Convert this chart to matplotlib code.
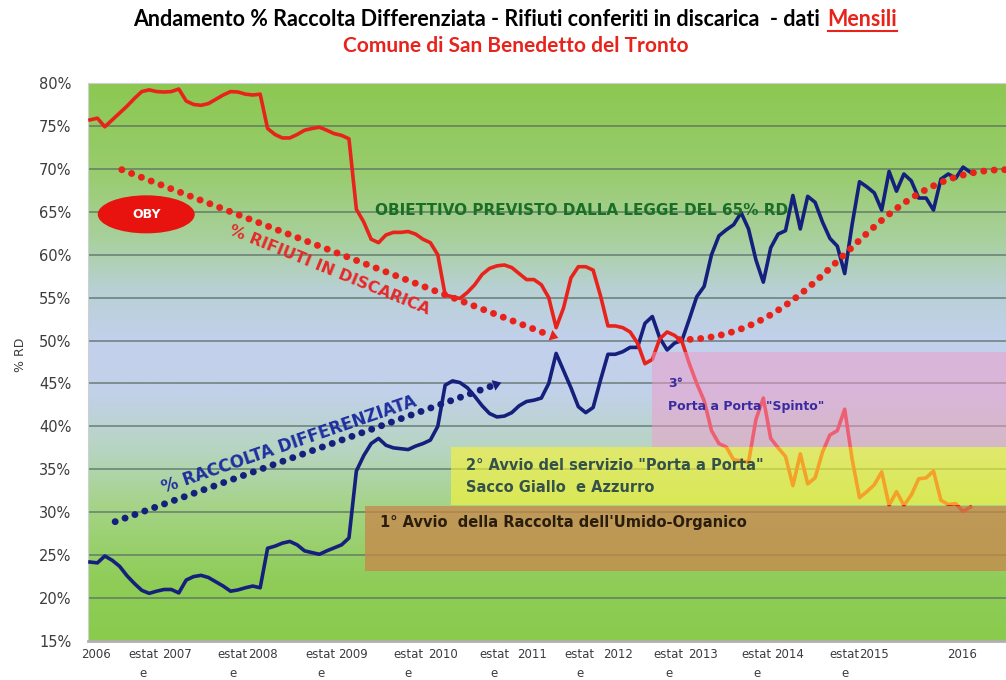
import numpy as np
import matplotlib.pyplot as plt
from matplotlib.colors import LinearSegmentedColormap
from matplotlib.patches import Ellipse, Rectangle
from matplotlib.lines import Line2D

# monthly data, Jan 2006 onwards (index = month number)
rd = [24.2, 24.1, 24.9, 24.4, 23.7, 22.6, 21.7, 20.9, 20.55, 20.8,
      21.0, 21.0, 20.6, 22.1, 22.5, 22.65, 22.4, 21.9, 21.4, 20.8,
      20.95, 21.2, 21.4, 21.2, 25.8, 26.05, 26.4, 26.6, 26.2, 25.5,
      25.3, 25.1, 25.5, 25.85, 26.2, 27.0, 34.8, 36.6, 38.0, 38.6,
      37.8, 37.5, 37.4, 37.3, 37.7, 38.0, 38.4, 40.0, 44.8, 45.3,
      45.1, 44.5, 43.5, 42.4, 41.5, 41.1, 41.2, 41.6, 42.4, 42.9,
      43.05, 43.3, 45.0, 48.5, 46.5, 44.5, 42.3, 41.6, 42.2, 45.4,
      48.4, 48.4, 48.7, 49.2, 49.2, 52.0, 52.8, 50.3, 48.9, 49.7,
      50.0, 52.5, 55.1, 56.3, 60.0, 62.2, 62.9, 63.5, 64.9, 63.0,
      59.4, 56.8, 60.8, 62.4, 62.8, 66.9, 63.0, 66.8, 66.1, 63.8,
      61.9, 61.0, 57.8, 63.5, 68.5, 67.9, 67.2, 65.2, 69.7, 67.4,
      69.4, 68.6, 66.6, 66.6, 65.2, 68.8, 69.4, 68.9, 70.2, 69.6]

discarica = [75.7, 75.9, 74.9, 75.7, 76.5, 77.3, 78.2, 79.0, 79.2, 79.0,
             78.95, 79.0, 79.3, 77.9, 77.5, 77.4, 77.6, 78.1, 78.6, 79.0,
             78.95, 78.7, 78.6, 78.7, 74.7, 74.0, 73.6, 73.6, 74.0, 74.5,
             74.7, 74.85, 74.5, 74.1, 73.9, 73.5, 65.3, 63.8, 61.8, 61.4,
             62.3, 62.6, 62.6, 62.7, 62.4, 61.8, 61.4, 60.0, 55.3, 55.1,
             54.9, 55.6, 56.5, 57.7, 58.4, 58.7, 58.8, 58.5, 57.8, 57.1,
             57.1, 56.5, 55.0, 51.5, 53.8, 57.3, 58.6, 58.6, 58.2, 55.2,
             51.7, 51.7, 51.5, 51.0, 49.7, 47.3, 47.8, 50.2, 51.0, 50.6,
             49.9, 47.3, 45.0, 43.0, 39.5, 38.0, 37.6, 36.1, 36.0, 35.8,
             40.8, 43.3, 38.6, 37.5, 36.5, 33.1, 36.8, 33.3, 34.0, 37.0,
             39.0, 39.5, 42.0, 36.2, 31.7, 32.4, 33.2, 34.7, 30.8, 32.4,
             30.8, 32.0, 33.9, 34.0, 34.8, 31.4, 30.9, 31.0, 30.1, 30.6]

months = np.arange(len(rd))

year_labels = ['2006', '2007', '2008', '2009', '2010', '2011', '2012',
               '2013', '2014', '2015', '2016']
year_pos = [0.8, 11.8, 23.4, 35.5, 47.7, 59.7, 71.4, 82.9, 94.5, 105.9, 117.8]
estate_pos = [7.2, 19.3, 31.2, 43.0, 54.6, 66.2, 78.2, 90.1, 102.0]

y_ticks = list(range(15, 81, 5))

red = '#e8231c'
navy = '#15207c'
x0, x1 = -0.27, 123.8

fig = plt.figure(figsize=(10.06, 6.8), dpi=100)
ax = fig.add_axes([88 / 1006, 1 - 641 / 680, (1006 - 88) / 1006, (641 - 83) / 680])
ax.set_xlim(x0, x1)
ax.set_ylim(15, 80)

# background gradient green -> blue -> green
stops = [(15, '#8acb4e'), (22, '#8fcd58'), (30, '#a3d382'), (37, '#b6d5c0'),
         (44, '#c2d1ea'), (50, '#c2d0ec'), (56, '#b8d1d4'), (62, '#a8d09c'),
         (70, '#98cc6c'), (80, '#8cc852')]
cmap = LinearSegmentedColormap.from_list('bg', [((v - 15) / 65, c) for v, c in stops])
ax.imshow(np.linspace(0, 1, 256).reshape(-1, 1), extent=[x0, x1, 15, 80],
          origin='lower', aspect='auto', cmap=cmap, zorder=0)

for v in y_ticks[1:-1]:
    ax.axhline(v, color='#55695f', lw=1.1, alpha=0.8, zorder=1)

ax.plot(months, rd, color=navy, lw=2.6, zorder=3, solid_joinstyle='round')
ax.plot(months, discarica, color=red, lw=2.6, zorder=4, solid_joinstyle='round')

# phase boxes (semi transparent, over the lines)
ax.add_patch(Rectangle((75.9, 37.65), x1 - 75.9, 48.7 - 37.65, fc='#f29ccb',
                       ec='none', alpha=0.5, zorder=5))
ax.add_patch(Rectangle((48.8, 30.9), x1 - 48.8, 37.65 - 30.9, fc='#fcf733',
                       ec='none', alpha=0.6, zorder=5))
ax.add_patch(Rectangle((37.2, 23.1), x1 - 37.2, 30.7 - 23.1, fc='#c9864a',
                       ec='none', alpha=0.75, zorder=5))

ax.text(78.1, 45.05, '3°', color='#3a2aa0', fontsize=9, fontweight='bold',
        va='center', zorder=7)
ax.text(78.1, 42.3, 'Porta a Porta "Spinto"', color='#3a2aa0', fontsize=9,
        fontweight='bold', va='center', zorder=7)
ax.text(50.8, 35.4, '2° Avvio del servizio "Porta a Porta"', color='#35524a',
        fontsize=10.5, fontweight='bold', va='center', zorder=7)
ax.text(50.8, 32.9, 'Sacco Giallo  e Azzurro', color='#35524a',
        fontsize=10.5, fontweight='bold', va='center', zorder=7)
ax.text(39.2, 28.75, "1° Avvio  della Raccolta dell'Umido-Organico",
        color='#2b1d0e', fontsize=10.5, fontweight='bold', va='center', zorder=7)
ax.text(38.5, 65.1, 'OBIETTIVO PREVISTO DALLA LEGGE DEL 65% RD',
        color='#1a6e25', fontsize=11, fontweight='bold', va='center', zorder=7)

# dotted trend arrows
dots = dict(lw=5, ls=(0, (0.01, 1.5)), dash_capstyle='round', zorder=8)
ax.plot([4.3, 62.2], [69.9, 50.6], color=red, **dots)
ax.annotate('', xy=(63.3, 50.3), xytext=(61.5, 50.85),
            arrowprops=dict(arrowstyle='-|>,head_length=0.6,head_width=0.4',
                            color=red, lw=0, shrinkA=0, shrinkB=0), zorder=8)
ax.plot([3.4, 54.6], [28.9, 44.8], color=navy, **dots)
ax.annotate('', xy=(55.6, 45.1), xytext=(53.8, 44.55),
            arrowprops=dict(arrowstyle='-|>,head_length=0.6,head_width=0.4',
                            color=navy, lw=0, shrinkA=0, shrinkB=0), zorder=8)

t = np.linspace(0, 1, 200)[:, None]
ctrl = np.array([[79.7, 50.1], [100.0, 50.1], [104.0, 69.9], [123.8, 69.9]])
curve = ((1 - t) ** 3 * ctrl[0] + 3 * (1 - t) ** 2 * t * ctrl[1]
         + 3 * (1 - t) * t ** 2 * ctrl[2] + t ** 3 * ctrl[3])
ax.plot(curve[:, 0], curve[:, 1], color=red, **dots)

ax.text(32.4, 58.2, '% RIFIUTI IN DISCARICA', color='#e52a2a', fontsize=11.5,
        fontweight='bold', rotation=-22, ha='center', va='center', zorder=8)
ax.text(26.9, 37.9, '% RACCOLTA DIFFERENZIATA', color='#1f2f9f', fontsize=12,
        fontweight='bold', rotation=19, ha='center', va='center', zorder=8)

ax.add_patch(Ellipse((7.6, 64.7), 13.1, 4.43, fc='#e8120e', ec='none', zorder=8))
ax.text(7.6, 64.7, 'OBY', color='white', fontsize=9, fontweight='bold',
        ha='center', va='center', zorder=9)

# axes
ax.set_yticks(y_ticks)
ax.set_yticklabels(['%d%%' % v for v in y_ticks], fontsize=10.5, color='#3c3c3c')
ax.set_xticks(year_pos + estate_pos)
ax.set_xticklabels(year_labels + ['estat\ne'] * len(estate_pos), fontsize=8.5,
                   color='#3c3c3c', linespacing=1.6)
ax.tick_params(axis='y', length=0, pad=12)
ax.tick_params(axis='x', length=0, pad=5)
for s in ['top', 'left', 'right']:
    ax.spines[s].set_color('#cfcfcf')
ax.spines['bottom'].set_color('#b0b0b0')
ax.spines['bottom'].set_linewidth(2)

fig.text(20 / 1006, 1 - 355 / 680, '% RD', rotation=90, fontsize=9,
         color='#3c3c3c', ha='center', va='center')

# title with red underlined "Mensili"
t1 = fig.text(0, 1 - 20 / 680, 'Andamento % Raccolta Differenziata - Rifiuti conferiti in discarica  - dati',
              fontsize=15.5, fontweight='bold', family='Lato', ha='left', va='center')
t2 = fig.text(0, 1 - 20 / 680, 'Mensili', fontsize=15.5, fontweight='bold',
              family='Lato', color='#e8231c', ha='left', va='center')
fig.text(516 / 1006, 1 - 46 / 680, 'Comune di San Benedetto del Tronto',
         fontsize=15, fontweight='bold', family='Lato', color='#e8231c',
         ha='center', va='center')
fig.canvas.draw()
r = fig.canvas.get_renderer()
w1 = t1.get_window_extent(r).width
w2 = t2.get_window_extent(r).width
start = 515 - (w1 + 8 + w2) / 2
t1.set_x(start / 1006)
t2.set_x((start + w1 + 8) / 1006)
uy = 1 - 31 / 680
fig.add_artist(Line2D([(start + w1 + 8) / 1006, (start + w1 + 8 + w2) / 1006],
                      [uy, uy], color='#e8231c', lw=1.5))

fig.savefig('out.png', dpi=100, facecolor='white')
